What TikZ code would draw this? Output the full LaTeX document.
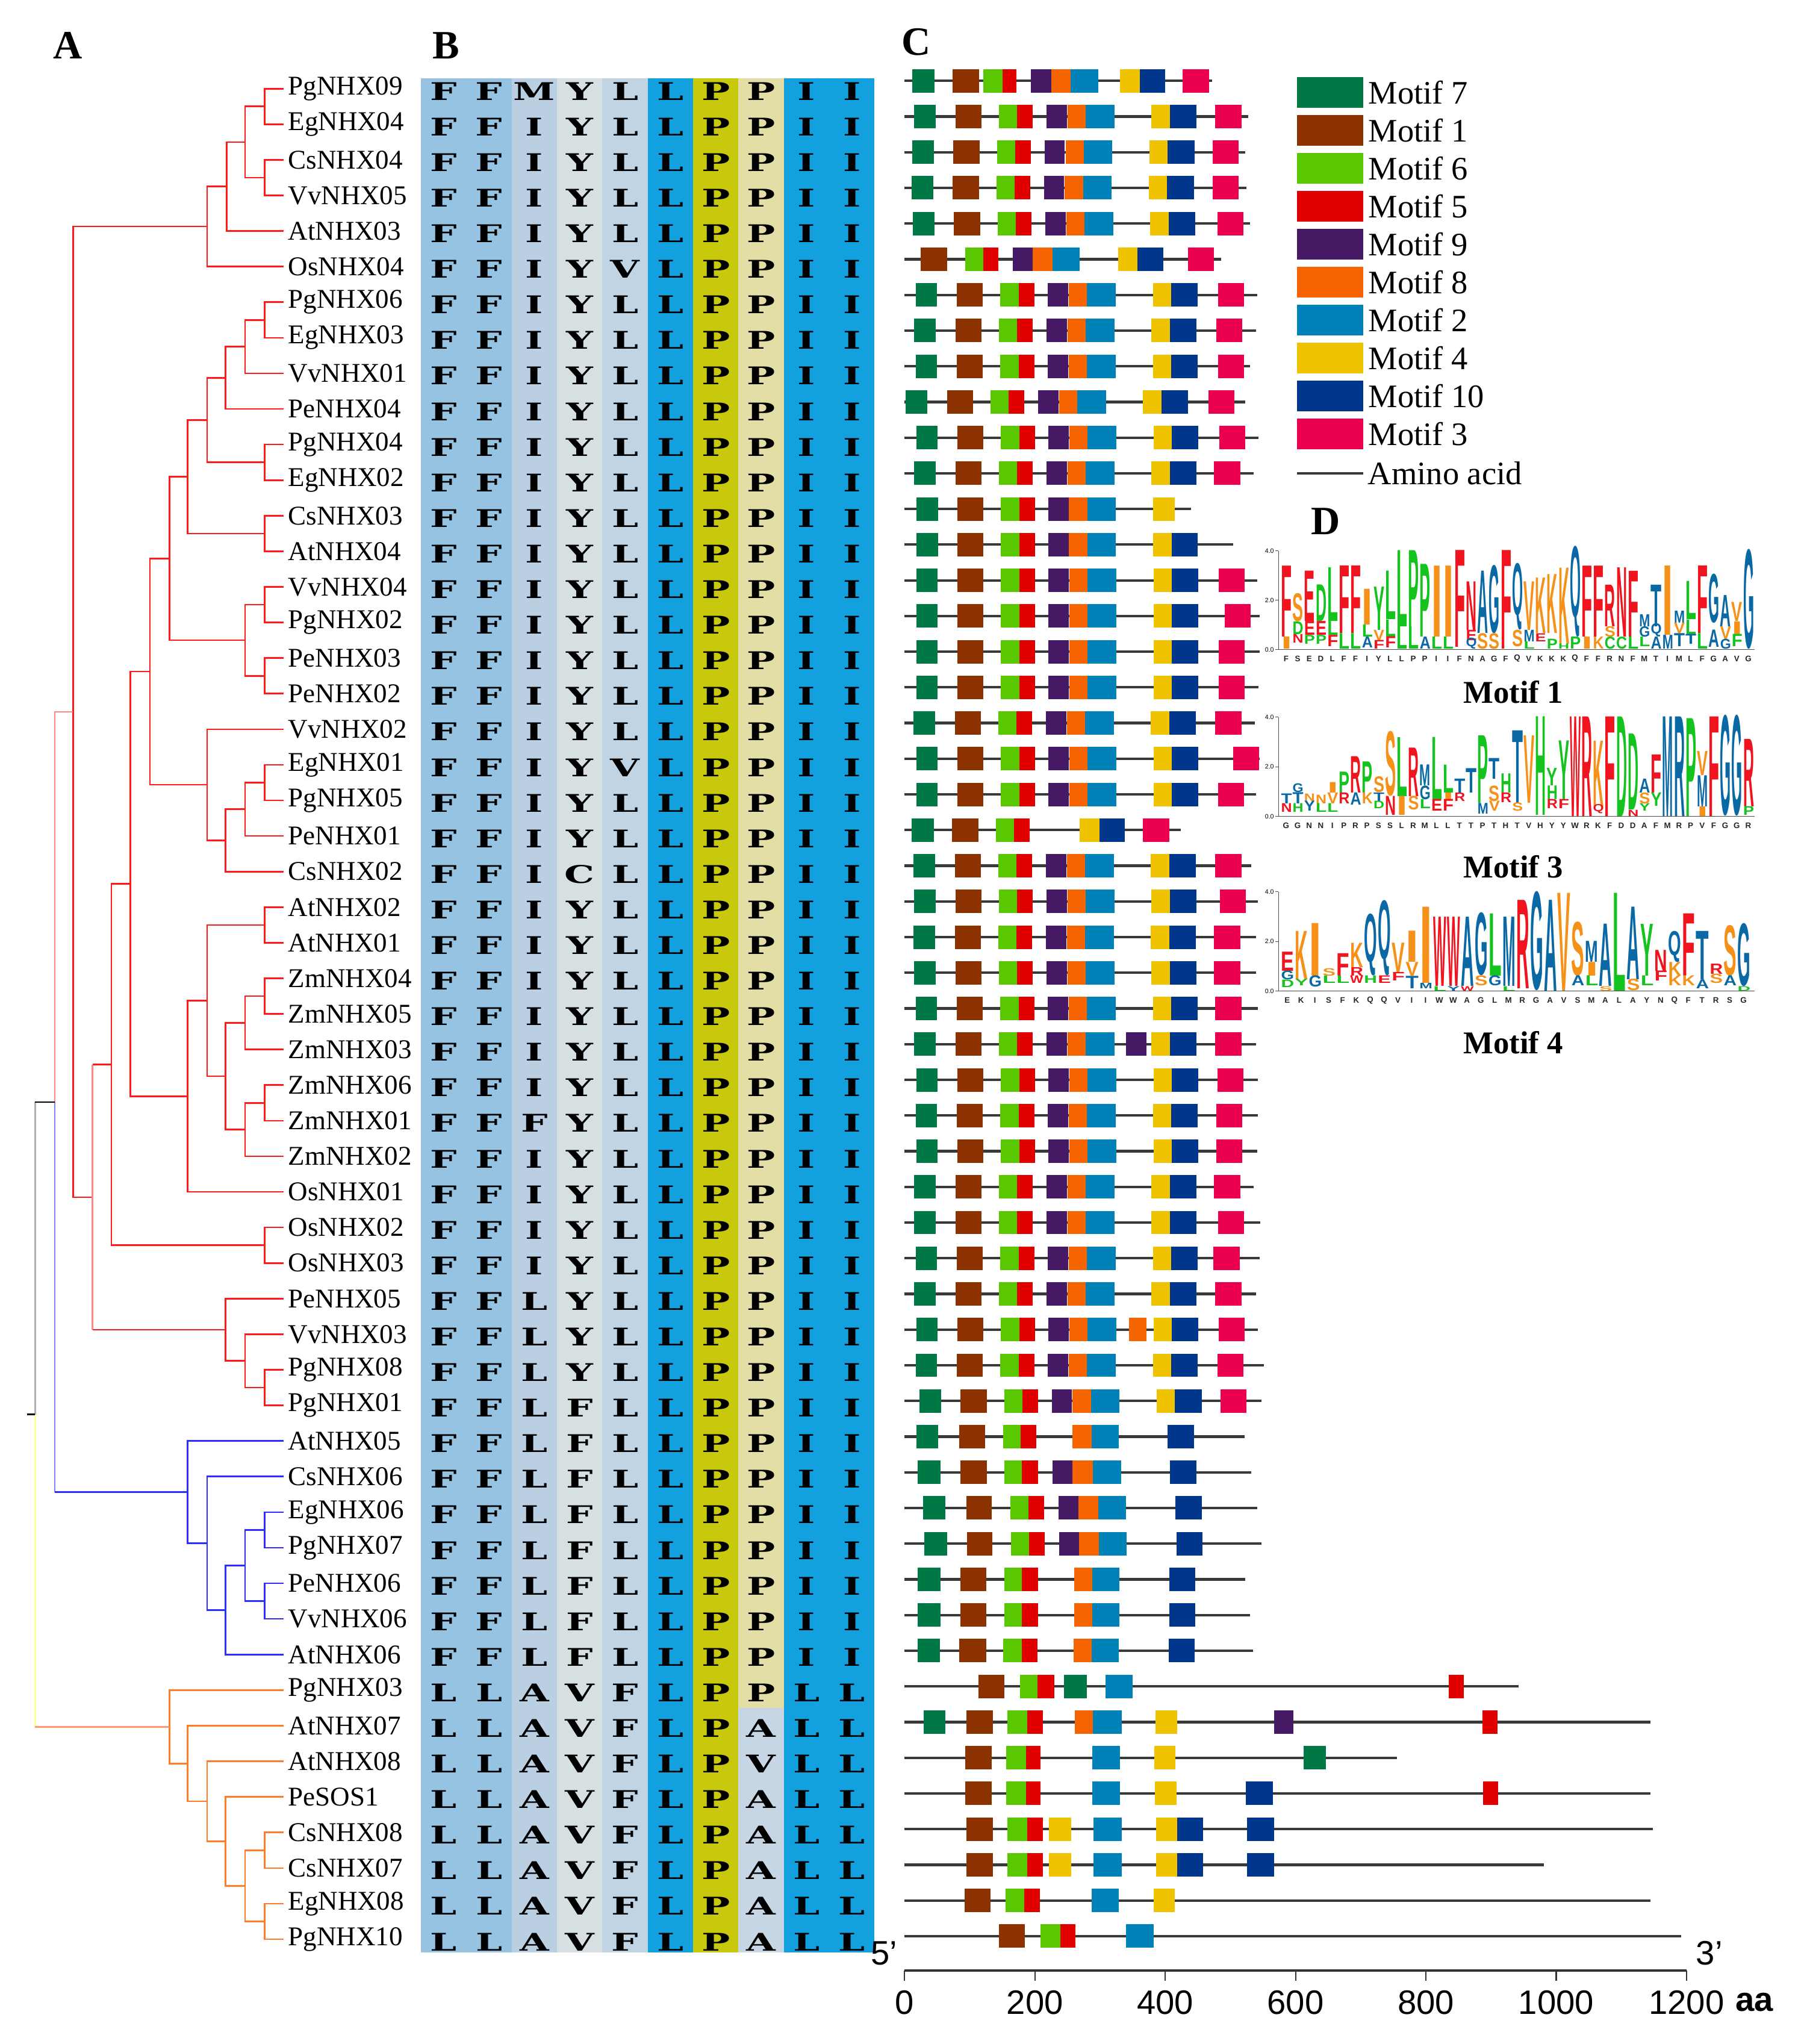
\documentclass[tikz,border=0pt]{standalone}
\usepackage{fontspec}
\setmainfont{Liberation Serif}
\setsansfont{Liberation Sans}
\newfontfamily\resfont{DejaVu Serif}
\usepackage{graphicx}
\usetikzlibrary{positioning}

%% tree colours
\definecolor{tred}{RGB}{255,25,25}
\definecolor{tpink}{RGB}{255,135,135}
\definecolor{tblue}{RGB}{45,45,255}
\definecolor{tlblue}{RGB}{135,135,255}
\definecolor{torange}{RGB}{255,125,40}
\definecolor{tsalmon}{RGB}{255,150,110}
\definecolor{tyellow}{RGB}{255,255,150}
\definecolor{tgray}{RGB}{175,175,175}
%% alignment columns
\definecolor{alA}{RGB}{150,195,225}
\definecolor{alB}{RGB}{186,208,226}
\definecolor{alC}{RGB}{214,224,227}
\definecolor{alD}{RGB}{193,212,228}
\definecolor{alE}{RGB}{18,160,222}
\definecolor{alF}{RGB}{200,200,12}
\definecolor{alG}{RGB}{226,222,165}
\definecolor{alH}{RGB}{198,214,228}
%% motifs
\definecolor{m7}{RGB}{0,120,70}
\definecolor{m1}{RGB}{140,50,0}
\definecolor{m6}{RGB}{90,200,0}
\definecolor{m5}{RGB}{225,0,0}
\definecolor{m9}{RGB}{70,25,100}
\definecolor{m8}{RGB}{245,100,0}
\definecolor{m2}{RGB}{0,130,185}
\definecolor{m4}{RGB}{240,195,0}
\definecolor{m10}{RGB}{0,55,140}
\definecolor{m3}{RGB}{235,0,80}
%% logo letters
\definecolor{lgr}{RGB}{240,20,30}
\definecolor{lgo}{RGB}{245,145,25}
\definecolor{lgg}{RGB}{20,195,30}
\definecolor{lgb}{RGB}{10,105,165}

%% one gene: row, length (aa), motif/start/width list
\newcommand\motifrow[3]{%
  \pgfmathsetmacro\cy{62+27.37*(#1-1)}
  \draw[aaline] (694,\cy) -- ({694+0.5*(#2)},\cy);
  \foreach \mm/\ms/\mw in {#3}
    \fill[m\mm] ({694+0.5*(\ms)},{\cy-9}) rectangle ++({0.5*(\mw)},18);
}
%% the usual ten-motif gene: row, shift, motif 3 start, length, extras
\newcommand\fullrow[5]{\motifrow{#1}{#4}{7/18+#2/33,1/81+#2/40,6/148+#2/28,5/176+#2/24,9/221+#2/31,8/253+#2/28,2/281+#2/44,4/382+#2/28,10/410+#2/41,3/#3/40#5}}
%% logo: x0, zero line, column width, units per bit, col/bottom/top/letter/colour
\newcommand\logoletters[5]{%
  \foreach \qc/\qb/\qt/\qa/\qk in {#5}{
    \pgfmathsetmacro\hh{(\qt-\qb)*#4*0.6157}
    \pgfmathsetmacro\ww{#3*0.6157*0.94}
    \node[inner sep=0, anchor=south west] at ({#1+(\qc-1)*#3+0.03*#3},{#2-(\qb)*#4})
      {\resizebox{\ww pt}{\hh pt}{\color{lg\qk}\sffamily\bfseries\qa}};
  }
}
%% logo frame: zero line, units per bit, column width, consensus
\newcommand\logoframe[4]{%
  \draw[gray!60!black, line width=0.3pt] (981,{#1-4*#2}) -- (981,#1) -- (1346,#1);
  \foreach \qv/\qs in {0/0.0,2/2.0,4/4.0}{
    \draw[gray!60!black, line width=0.3pt] (978.5,{#1-\qv*#2}) -- (981,{#1-\qv*#2});
    \node[font=\fontsize{3}{3}\sffamily, anchor=east, inner sep=0.5pt] at (978.5,{#1-\qv*#2}) {\qs};
  }
  \foreach \qa [count=\qi] in {#4}
    \node[font=\fontsize{3.8}{4}\sffamily\bfseries, text=gray!30!black, inner sep=0]
      at ({982.3+(\qi-0.5)*#3},{#1+7}) {\qa};
}

\begin{document}
\begin{tikzpicture}[x=0.2164mm,y=-0.2164mm,
  leaf/.style={font=\fontsize{12.8}{14}\selectfont, inner sep=1pt},
  branch/.style={line width=0.75pt},
  res/.style={font=\fontsize{11.5}{12}\resfont\bfseries, xscale=1.55, inner sep=0},
  panel/.style={font=\fontsize{19}{20}\selectfont\bfseries},
  aaline/.style={line width=1.2pt, draw=gray!45!black},
  legbox/.style={minimum width=31.4pt, minimum height=14.5pt, inner sep=0},
  legtext/.style={font=\fontsize{15.5}{16}\selectfont, inner sep=1pt},
  scalelab/.style={font=\fontsize{16}{16}\sffamily},
  logoname/.style={font=\fontsize{15}{16}\selectfont\bfseries}]
\useasboundingbox (0,0) rectangle (1384,1568);

%% panel letters
\node[panel] (pA) at (52,35) {A};
\node[panel] (pB) at (342,35) {B};
\node[panel] (pC) at (703,32) {C};
\node[panel] (pD) at (1017,400) {D};

%% A: leaves
\foreach \nm [count=\i] in {PgNHX09,EgNHX04,CsNHX04,VvNHX05,AtNHX03,OsNHX04,PgNHX06,EgNHX03,VvNHX01,PeNHX04,PgNHX04,EgNHX02,CsNHX03,AtNHX04,VvNHX04,PgNHX02,PeNHX03,PeNHX02,VvNHX02,EgNHX01,PgNHX05,PeNHX01,CsNHX02,AtNHX02,AtNHX01,ZmNHX04,ZmNHX05,ZmNHX03,ZmNHX06,ZmNHX01,ZmNHX02,OsNHX01,OsNHX02,OsNHX03,PeNHX05,VvNHX03,PgNHX08,PgNHX01,AtNHX05,CsNHX06,EgNHX06,PgNHX07,PeNHX06,VvNHX06,AtNHX06,PgNHX03,AtNHX07,AtNHX08,PeSOS1,CsNHX08,CsNHX07,EgNHX08,PgNHX10}{
  \coordinate (t\i) at (217.5,{68+27.3*(\i-1)});
  \node[leaf, right=1pt of t\i] (l\i) {\nm};
}
%% A: inner nodes
\coordinate (a1) at (203,81.65);
\coordinate (a2) at (203,136.25);
\coordinate (a3) at (188,108.95);
\coordinate (a4) at (174,143.08);
\coordinate (a5) at (159,173.79);
\coordinate (b1) at (203,245.45);
\coordinate (b2) at (188,265.93);
\coordinate (b3) at (173,289.8);
\coordinate (b4) at (203,354.65);
\coordinate (b5) at (159,322.2);
\coordinate (b6) at (203,409.25);
\coordinate (b7) at (144,365.7);
\coordinate (b8) at (203,463.85);
\coordinate (b9) at (203,518.45);
\coordinate (b10) at (188,491.15);
\coordinate (b11) at (130,428.4);
\coordinate (c1) at (203,600.35);
\coordinate (c2) at (188,620.8);
\coordinate (c3) at (173,644.7);
\coordinate (c4) at (159,602.05);
\coordinate (b12) at (115,515.2);
\coordinate (d1) at (203,709.55);
\coordinate (d2) at (203,764.15);
\coordinate (d3) at (188,784.6);
\coordinate (d4) at (203,846.05);
\coordinate (d5) at (188,866.5);
\coordinate (d6) at (173,825.55);
\coordinate (d7) at (159,767.55);
\coordinate (d8) at (144,840.9);
\coordinate (e1) at (100,678.05);
\coordinate (e2) at (203,955.25);
\coordinate (e3) at (85.5,816.65);
\coordinate (f1) at (203,1064.45);
\coordinate (f2) at (188,1043.98);
\coordinate (f3) at (173,1020.09);
\coordinate (e4) at (71,918.37);
\coordinate (a6) at (56,546.08);
\coordinate (g1) at (203,1173.65);
\coordinate (g2) at (203,1228.25);
\coordinate (g3) at (188,1200.95);
\coordinate (g4) at (173,1235.08);
\coordinate (g5) at (159,1183.89);
\coordinate (g6) at (144,1144.64);
\coordinate (r1) at (42,845.36);
\coordinate (h1) at (203,1419.35);
\coordinate (h2) at (203,1473.95);
\coordinate (h3) at (188,1446.65);
\coordinate (h4) at (173,1412.53);
\coordinate (h5) at (159,1381.8);
\coordinate (h6) at (144,1352.8);
\coordinate (h7) at (130,1324.65);
\coordinate (root) at (27,1085);
\coordinate (r0) at (20.6,1085);
%% A: branches
\foreach \p/\q in {a1/t1,a1/t2,a2/t3,a2/t4,a3/a1,a3/a2,a4/a3,a4/t5,a5/a4,a5/t6,b1/t7,b1/t8,b2/b1,b2/t9,b3/b2,b3/t10,b4/t11,b4/t12,b5/b3,b5/b4,b6/t13,b6/t14,b7/b5,b7/b6,b8/t15,b8/t16,b9/t17,b9/t18,b10/b8,b10/b9,b11/b7,b11/b10,c1/t20,c1/t21,c2/c1,c2/t22,c3/c2,c3/t23,c4/t19,c4/c3,b12/b11,b12/c4,d1/t24,d1/t25,d2/t26,d2/t27,d3/d2,d3/t28,d4/t29,d4/t30,d5/d4,d5/t31,d6/d3,d6/d5,d7/d1,d7/d6,d8/d7,d8/t32,e1/b12,e1/d8,e2/t33,e2/t34,e3/e1,e3/e2,f1/t37,f1/t38,f2/t36,f2/f1,f3/t35,f3/f2,a6/a5,a6/e4}
  \draw[branch, tred] (\p) |- (\q);
\draw[branch, tpink] (e4) -- (e4 |- e3);
\draw[branch, tpink] (e4) -- (e4 |- f3);
\draw[branch, tred] (e4 |- e3) -- (e3);
\draw[branch, tred] (e4 |- f3) -- (f3);
\draw[branch, tpink] (r1) |- (a6);
\foreach \p/\q in {g1/t41,g1/t42,g2/t43,g2/t44,g3/g1,g3/g2,g4/g3,g4/t45,g5/t40,g5/g4,g6/t39,g6/g5}
  \draw[branch, tblue] (\p) |- (\q);
\draw[branch, tlblue] (r1) -- (r1 |- g6);
\draw[branch, tblue] (r1 |- g6) -- (g6);
\foreach \p/\q in {h1/t50,h1/t51,h2/t52,h2/t53,h3/h1,h3/h2,h4/t49,h4/h3,h5/t48,h5/h4,h6/t47,h6/h5,h7/t46,h7/h6}
  \draw[branch, torange] (\p) |- (\q);
\draw[branch, tgray] (root) -- (root |- r1);
\draw[branch, black] (root |- r1) -- (r1);
\draw[branch, tyellow] (root) -- (root |- h7);
\draw[branch, tsalmon] (root |- h7) -- (h7);
\draw[branch, black] (r0) -- (root);

%% B: alignment
\fill[alA] (323,60) rectangle (392.6,1497.7);
\fill[alB] (392.6,60) rectangle (427.4,1497.7);
\fill[alC] (427.4,60) rectangle (462.2,1497.7);
\fill[alD] (462.2,60) rectangle (497,1497.7);
\fill[alE] (497,60) rectangle (531.8,1497.7);
\fill[alF] (531.8,60) rectangle (566.6,1497.7);
\fill[alG] (566.6,60) rectangle (601.4,1310);
\fill[alH] (566.6,1310) rectangle (601.4,1497.7);
\fill[alE] (601.4,60) rectangle (671,1497.7);
\foreach \r [count=\i] in {
  {F,F,M,Y,L,L,P,P,I,I},{F,F,I,Y,L,L,P,P,I,I},{F,F,I,Y,L,L,P,P,I,I},{F,F,I,Y,L,L,P,P,I,I},
  {F,F,I,Y,L,L,P,P,I,I},{F,F,I,Y,V,L,P,P,I,I},{F,F,I,Y,L,L,P,P,I,I},{F,F,I,Y,L,L,P,P,I,I},
  {F,F,I,Y,L,L,P,P,I,I},{F,F,I,Y,L,L,P,P,I,I},{F,F,I,Y,L,L,P,P,I,I},{F,F,I,Y,L,L,P,P,I,I},
  {F,F,I,Y,L,L,P,P,I,I},{F,F,I,Y,L,L,P,P,I,I},{F,F,I,Y,L,L,P,P,I,I},{F,F,I,Y,L,L,P,P,I,I},
  {F,F,I,Y,L,L,P,P,I,I},{F,F,I,Y,L,L,P,P,I,I},{F,F,I,Y,L,L,P,P,I,I},{F,F,I,Y,V,L,P,P,I,I},
  {F,F,I,Y,L,L,P,P,I,I},{F,F,I,Y,L,L,P,P,I,I},{F,F,I,C,L,L,P,P,I,I},{F,F,I,Y,L,L,P,P,I,I},
  {F,F,I,Y,L,L,P,P,I,I},{F,F,I,Y,L,L,P,P,I,I},{F,F,I,Y,L,L,P,P,I,I},{F,F,I,Y,L,L,P,P,I,I},
  {F,F,I,Y,L,L,P,P,I,I},{F,F,F,Y,L,L,P,P,I,I},{F,F,I,Y,L,L,P,P,I,I},{F,F,I,Y,L,L,P,P,I,I},
  {F,F,I,Y,L,L,P,P,I,I},{F,F,I,Y,L,L,P,P,I,I},{F,F,L,Y,L,L,P,P,I,I},{F,F,L,Y,L,L,P,P,I,I},
  {F,F,L,Y,L,L,P,P,I,I},{F,F,L,F,L,L,P,P,I,I},{F,F,L,F,L,L,P,P,I,I},{F,F,L,F,L,L,P,P,I,I},
  {F,F,L,F,L,L,P,P,I,I},{F,F,L,F,L,L,P,P,I,I},{F,F,L,F,L,L,P,P,I,I},{F,F,L,F,L,L,P,P,I,I},
  {F,F,L,F,L,L,P,P,I,I},{L,L,A,V,F,L,P,P,L,L},{L,L,A,V,F,L,P,A,L,L},{L,L,A,V,F,L,P,V,L,L},
  {L,L,A,V,F,L,P,A,L,L},{L,L,A,V,F,L,P,A,L,L},{L,L,A,V,F,L,P,A,L,L},{L,L,A,V,F,L,P,A,L,L},
  {L,L,A,V,F,L,P,A,L,L}}{
  \foreach \a [count=\j] in \r
    \node[res] at ({323+34.8*(\j-0.5)},{70+27.3*(\i-1)}) {\a};
}

%% C: motif structure
\motifrow{1}{472}{7/12/34,1/74/40,6/121/29,5/150/22,9/194/31,8/225/30,2/255/42,4/331/30,10/361/39,3/427/40}
\fullrow{2}{-3}{477}{527}{}
\fullrow{3}{-6}{473}{523}{}
\fullrow{4}{-7}{473}{525}{}
\fullrow{5}{-5}{480}{530}{}
\motifrow{6}{486}{1/25/40,6/93/28,5/121/23,9/166/31,8/197/30,2/227/42,4/328/29,10/357/40,3/435/40}
\fullrow{7}{-1}{481}{541}{}
\fullrow{8}{-3}{478}{539}{}
\fullrow{9}{-1}{481}{530}{}
\fullrow{10}{-16}{466}{523}{}
\fullrow{11}{0}{483}{543}{}
\fullrow{12}{-3}{475}{536}{}
\motifrow{13}{440}{7/18/34,1/81/40,6/148/28,5/176/24,9/221/31,8/252/29,2/281/43,4/381/34}
\motifrow{14}{504}{7/18/34,1/81/40,6/148/28,5/176/24,9/221/31,8/252/29,2/281/43,4/381/29,10/410/40}
\fullrow{15}{0}{482}{541}{}
\fullrow{16}{0}{491}{545}{}
\fullrow{17}{0}{482}{545}{}
\fullrow{18}{0}{482}{543}{}
\fullrow{19}{-4}{477}{538}{}
\fullrow{20}{0}{504}{545}{}
\fullrow{21}{0}{481}{539}{}
\motifrow{22}{424}{7/11/34,1/73/40,6/140/28,5/168/24,4/269/30,10/299/39,3/366/40}
\fullrow{23}{-4}{477}{532}{}
\fullrow{24}{-3}{484}{542}{}
\fullrow{25}{-4}{475}{539}{}
\fullrow{26}{-3}{475}{539}{}
\fullrow{27}{-1}{477}{542}{}
\fullrow{28}{-3}{477}{539}{,9/340/31}
\fullrow{29}{0}{480}{542}{}
\fullrow{30}{-1}{478}{542}{}
\fullrow{31}{0}{478}{541}{}
\fullrow{32}{-3}{475}{536}{}
\fullrow{33}{-3}{481}{546}{}
\fullrow{34}{-1}{474}{545}{}
\fullrow{35}{-3}{477}{539}{}
\fullrow{36}{0}{482}{542}{,8/344/27}
\fullrow{37}{-1}{480}{551}{}
\fullrow{38}{5}{485}{548}{}
\motifrow{39}{522}{7/18/34,1/84/40,6/151/27,5/178/24,8/258/29,2/287/42,10/404/40}
\motifrow{40}{532}{7/20/35,1/86/40,6/153/27,5/180/25,9/227/31,8/258/31,2/289/43,10/407/41}
\motifrow{41}{541}{7/28/35,1/95/39,6/162/28,5/190/24,9/236/31,8/267/30,2/297/43,10/416/40}
\motifrow{42}{548}{7/30/35,1/96/39,6/163/28,5/191/24,9/237/31,8/268/30,2/298/43,10/417/40}
\motifrow{43}{523}{7/20/35,1/86/39,6/153/27,5/180/25,8/260/28,2/288/42,10/406/40}
\motifrow{44}{530}{7/20/35,1/86/39,6/153/27,5/180/25,8/260/28,2/288/42,10/406/40}
\motifrow{45}{535}{7/20/34,1/84/41,6/151/29,5/180/24,8/259/28,2/287/42,10/405/40}
\motifrow{46}{942}{1/113/40,6/177/27,5/204/26,7/245/35,2/308/42,5/835/23}
\motifrow{47}{1145}{7/29/34,1/95/41,6/158/30,5/188/24,8/261/28,2/289/44,4/385/33,9/567/30,5/887/23}
\motifrow{48}{756}{1/93/41,6/156/30,5/186/23,2/288/43,4/383/33,7/612/35}
\motifrow{49}{1145}{1/93/41,6/156/30,5/186/23,2/288/43,4/384/33,10/524/41,5/888/23}
\motifrow{50}{1148}{1/95/41,6/158/30,5/188/24,4/222/34,2/290/43,4/386/32,10/418/40,10/526/41}
\motifrow{51}{981}{1/95/41,6/158/30,5/188/24,4/222/34,2/290/43,4/386/32,10/418/40,10/526/41}
\motifrow{52}{1145}{1/92/40,6/155/29,5/184/24,2/287/42,4/382/33}
\motifrow{53}{1192}{1/145/40,6/209/30,5/239/23,2/340/42}
%% C: scale
\coordinate (s0) at (694,1511.5);
\coordinate (s1) at (1294,1511.5);
\draw[line width=1.2pt, gray!40!black] (s0) -- (s1);
\foreach \v in {0,200,...,1200}{
  \draw[line width=0.6pt, gray!40!black] ({694+0.5*\v},1511.5) -- ++(0,8);
  \node[scalelab] at ({694+0.5*\v},1536) {\v};
}
\node[scalelab, left=0pt of s0, yshift=8pt] {5'};
\node[scalelab, right=1pt of s1, yshift=8pt] {3'};
\node[scalelab, font=\fontsize{16}{16}\sffamily\bfseries] at (1346,1536) {aa};

%% C: legend
\foreach \k/\lab [count=\i] in {m7/Motif 7,m1/Motif 1,m6/Motif 6,m5/Motif 5,m9/Motif 9,m8/Motif 8,m2/Motif 2,m4/Motif 4,m10/Motif 10,m3/Motif 3}{
  \node[legbox, fill=\k] (k\i) at (1020.5,{71+29.1*(\i-1)}) {};
  \node[legtext, right=1pt of k\i] {\lab};
}
\coordinate (ka) at (995,363);
\coordinate (kb) at (1046,363);
\draw[line width=1.1pt, gray!45!black] (ka) -- (kb);
\node[legtext, right=1pt of kb] {Amino acid};

%% D: logos
\logoframe{498.2}{18.9}{8.866}{F,S,E,D,L,F,F,I,Y,L,L,P,P,I,I,F,N,A,G,F,Q,V,K,K,K,Q,F,F,R,N,F,M,T,I,M,L,F,G,A,V,G}
\logoletters{982.3}{498.2}{8.866}{18.9}{1/0.49/3.37/F/r,1/0/0.49/I/o,2/1.12/2.25/S/o,2/0.6/1.12/D/g,2/0.25/0.6/N/r,3/1.12/3.16/E/r,3/0.56/1.12/E/r,3/0.2/0.56/P/g,4/1.12/2.6/D/g,4/0.56/1.12/E/r,4/0.2/0.56/P/g,5/1.12/3.3/L/g,5/0.56/1.12/L/g,5/0.1/0.56/F/r,6/0.63/3.37/F/r,6/0/0.63/L/g,7/0.63/3.37/F/r,7/0/0.63/L/g,8/0.98/2.43/I/o,8/0.49/0.98/L/g,8/0.05/0.49/A/b,9/0.77/2.53/Y/g,9/0.35/0.77/V/o,9/0/0.35/F/r,10/1.19/3.16/L/g,10/0.5/1.19/L/g,10/0.05/0.5/F/r,11/0.91/4/L/g,11/0/0.91/L/g,12/0.91/4/P/g,12/0/0.91/L/g,13/0.49/3.44/P/g,13/0/0.49/A/b,14/0.49/3.37/I/o,14/0/0.49/L/g,15/0.49/3.37/I/o,15/0/0.49/L/g,16/0.07/4/F/r,17/0.77/2.74/N/r,17/0.35/0.77/E/r,17/0/0.35/Q/b,18/0.63/3.16/A/b,18/0/0.63/S/o,19/0.63/3.37/G/b,19/0/0.63/S/o,20/0/4/F/r,21/0.77/2.88/Q/b,21/0.1/0.77/S/o,22/0.77/2.74/V/o,22/0.3/0.77/M/b,22/0/0.3/L/g,23/0.63/2.88/K/o,23/0.3/0.63/E/r,24/0.63/3.02/K/o,24/0/0.4/P/g,25/0.21/3.3/K/o,25/0/0.21/H/g,26/0.49/3.37/Q/b,26/0/0.49/P/g,27/0.49/3.37/F/r,27/0/0.49/I/o,28/0.49/3.37/F/r,28/0/0.49/K/o,29/0.91/2.6/R/r,29/0.49/0.91/S/o,29/0/0.49/C/g,30/0.49/3.3/N/r,30/0/0.49/C/g,31/0.49/3.16/F/r,31/0/0.49/L/g,32/0.91/1.4/M/b,32/0.49/0.91/G/b,32/0.1/0.49/L/g,33/0.91/2.6/T/b,33/0.49/0.91/Q/b,33/0/0.49/A/b,34/0.56/3.37/I/o,34/0/0.56/M/b,35/1.05/1.54/M/b,35/0.63/1.05/V/o,35/0.1/0.63/T/b,36/1.19/2.74/L/g,36/0.6/1.19/L/g,36/0.2/0.6/T/b,37/0.63/3.37/F/r,37/0/0.63/L/g,38/1.05/3.02/G/b,38/0.07/0.77/A/b,39/0.91/2.18/A/b,39/0.4/0.91/V/o,39/0/0.4/G/b,40/1.12/1.89/V/o,40/0.6/1.12/I/o,40/0.1/0.6/F/g,41/0/4/G/b}
\node[logoname] (n1) at (1161,531) {Motif 1};

\logoframe{626.4}{19.1}{8.866}{G,G,N,N,I,P,R,P,S,S,L,R,M,L,L,T,T,P,T,H,T,V,H,Y,Y,W,R,K,F,D,D,A,F,M,R,P,V,F,G,G,R}
\logoletters{982.3}{626.4}{8.866}{19.1}{1/0.5/0.9/T/b,1/0.15/0.5/N/r,2/0.95/1.3/G/b,2/0.5/0.95/T/b,2/0.15/0.5/H/g,3/0.6/0.9/N/o,3/0.2/0.6/Y/b,4/0.5/0.85/N/o,4/0.15/0.5/L/g,5/0.94/1.36/I/o,5/0.5/0.94/V/o,5/0.15/0.5/L/g,6/0.94/1.78/P/g,6/0.5/0.94/R/r,7/0.94/2.4/R/r,7/0.45/0.94/A/b,8/0.94/2.19/P/g,8/0.5/0.94/K/o,9/0.94/1.57/S/o,9/0.6/0.94/T/b,9/0.3/0.6/D/g,10/0.8/3.375/S/o,10/0.04/0.8/N/r,11/0.8/3.17/L/g,11/0.04/0.8/I/o,12/0.8/2.75/R/r,12/0.25/0.8/S/o,13/1.22/2.06/M/b,13/0.67/1.22/G/b,13/0.3/0.67/L/g,14/0.67/3.17/L/g,14/0.2/0.67/E/r,15/0.94/2.06/L/g,15/0.67/0.94/I/o,15/0.2/0.67/F/r,16/0.94/1.5/T/b,16/0.6/0.94/R/r,17/0.94/1.92/T/b,18/0.53/3.24/P/g,18/0.1/0.53/M/b,19/1.5/2.33/T/b,19/0.6/1.22/S/o,19/0.2/0.6/V/o,20/0.94/1.71/H/g,20/0.55/0.94/R/r,21/0.53/3.44/T/b,21/0.2/0.53/S/o,22/0.53/3.24/V/o,23/0.04/4/H/g,24/1.22/1.92/Y/g,24/0.67/1.22/H/g,24/0.3/0.67/R/r,25/0.67/3.03/Y/g,25/0.3/0.67/F/r,26/0/4/W/r,27/0/4/R/r,28/0.39/3.03/K/o,28/0.1/0.39/Q/r,29/0/4/F/r,30/0/4/D/g,31/0.25/3.3/D/g,31/0/0.25/N/r,32/0.94/1.5/A/b,32/0.5/0.94/S/o,32/0.2/0.5/Y/g,33/0.94/2.47/F/r,33/0.4/0.94/Y/g,34/0/4/M/b,35/0/4/R/b,36/0/3.93/P/g,37/1.64/2.61/V/o,37/0.39/1.64/M/b,37/0/0.39/I/o,38/0/4/F/r,39/0/4/G/b,40/0/4/G/b,41/0.39/3.1/R/r,41/0.04/0.39/P/g}
\node[logoname] (n3) at (1161,665) {Motif 3};

\logoframe{760.4}{19.1}{10.61}{E,K,I,S,F,K,Q,Q,V,I,I,W,W,A,G,L,M,R,G,A,V,S,M,A,L,A,Y,N,Q,F,T,R,S,G}
\logoletters{982.3}{760.4}{10.61}{19.1}{1/0.8/1.57/E/r,1/0.45/0.8/G/b,1/0.15/0.45/D/g,2/0.46/2.4/K/o,2/0.2/0.46/Y/g,3/0.6/2.71/I/o,3/0.15/0.6/G/b,4/0.6/0.9/S/o,4/0.3/0.6/L/g,5/0.6/1.5/F/r,5/0.3/0.6/L/g,6/0.94/1.92/K/o,6/0.6/0.94/R/r,6/0.3/0.6/W/r,7/0.6/2.54/Q/b,7/0.3/0.6/H/g,8/0.6/2.96/Q/b,8/0.3/0.6/E/r,9/0.74/1.92/V/o,9/0.4/0.74/F/r,10/1.15/2.4/I/o,10/0.6/1.15/V/o,10/0.1/0.6/T/b,11/0.32/3.375/I/o,11/0.1/0.32/M/b,12/0.18/2.96/W/r,12/0/0.18/L/g,13/0.18/2.96/W/r,13/0/0.18/Y/b,14/0.18/2.96/A/b,14/0/0.18/W/r,15/0.6/3.1/G/b,15/0.2/0.6/S/o,16/0.6/3.1/L/g,16/0.2/0.6/G/b,17/0.18/2.96/M/b,17/0/0.18/L/g,18/0.1/3.65/R/r,19/0/3.93/G/b,20/0/3.65/A/b,21/0/3.93/V/o,22/0.6/2.75/S/o,22/0.2/0.6/A/b,23/1.15/1.99/M/b,23/0.6/1.15/I/o,23/0.2/0.6/L/g,24/0.18/2.68/A/b,24/0/0.18/S/o,25/0/3.93/L/g,26/0.46/3.375/A/b,26/0/0.46/S/o,27/0.6/2.68/Y/g,27/0.2/0.6/L/g,28/0.8/1.64/N/r,28/0.4/0.8/F/r,29/1.15/2.125/Q/b,29/0.6/1.15/K/o,29/0.2/0.6/K/o,30/0.6/3.1/F/r,30/0.2/0.6/K/o,31/0.46/2.4/T/b,31/0.1/0.46/A/b,32/0.67/1.08/R/r,32/0.3/0.67/S/o,33/0.6/2.61/S/o,33/0.2/0.6/A/b,34/0.18/2.68/G/b,34/0/0.18/D/g}
\node[logoname] (n4) at (1161,800) {Motif 4};
\end{tikzpicture}
\end{document}
